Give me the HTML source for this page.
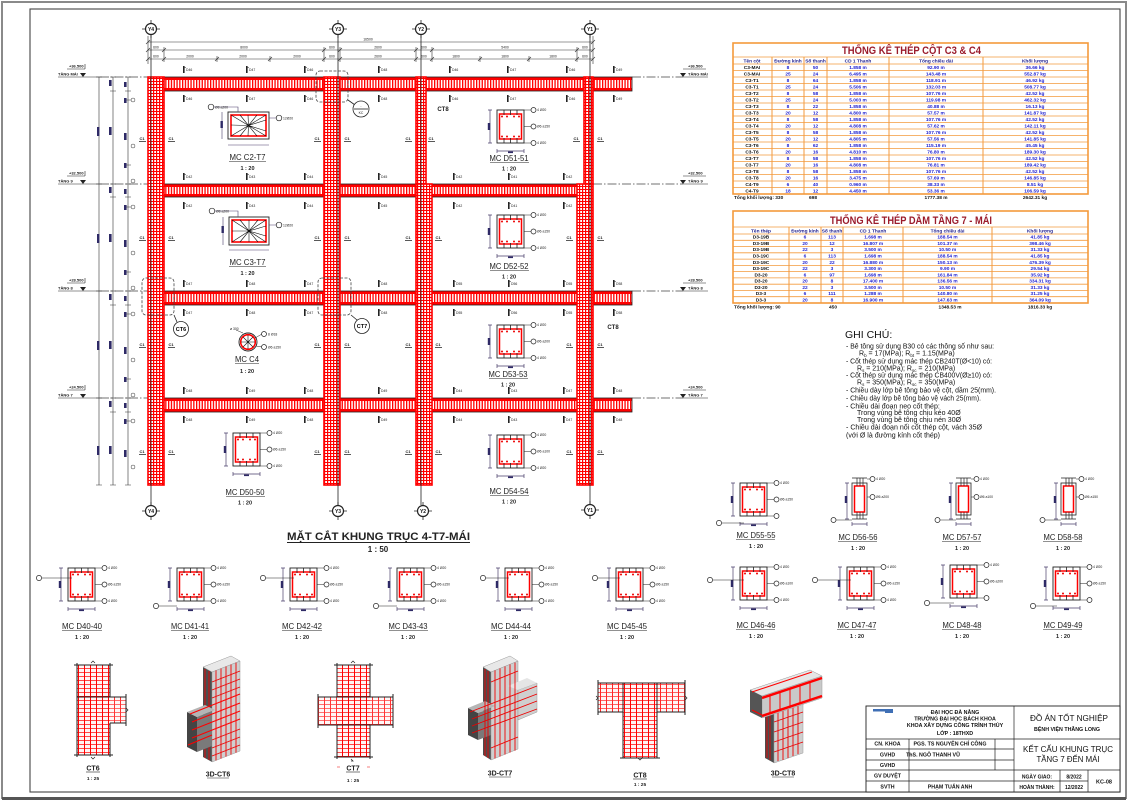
<!DOCTYPE html>
<html><head><meta charset="utf-8"><title>KC-08</title>
<style>
html,body{margin:0;padding:0;background:#fff;}
svg{display:block;font-family:"Liberation Sans","DejaVu Sans",sans-serif;}
.t3{font-size:3.4px;fill:#222;}
.t4{font-size:4px;fill:#222;font-weight:bold;}
.lb{font-size:8px;fill:#222;text-anchor:middle;}
.sc{font-size:5.5px;font-weight:bold;fill:#222;text-anchor:middle;}
.td{font-size:4.8px;font-weight:bold;fill:#1f1fd0;text-anchor:middle;}
.tn{font-size:4.8px;font-weight:bold;fill:#111;text-anchor:middle;}
.th{font-size:4.8px;font-weight:bold;fill:#1f1f8f;text-anchor:middle;}
.nt{font-size:7px;fill:#111;}
.tb{font-size:5.3px;font-weight:bold;fill:#111;text-anchor:middle;}
.ax{font-size:5px;font-weight:bold;fill:#111;text-anchor:middle;}
</style></head><body>
<svg width="1128" height="800" viewBox="0 0 1128 800" xmlns="http://www.w3.org/2000/svg">
<defs>
 <pattern id="pbeam" width="2.8" height="10" patternUnits="userSpaceOnUse">
  <rect width="2.8" height="10" fill="#fff"/><rect width="1.3" height="10" fill="#f00"/>
 </pattern>
 <pattern id="pcol" width="3" height="3" patternUnits="userSpaceOnUse">
  <rect width="3" height="3" fill="#fff"/><rect width="1.2" height="3" fill="#f00"/><rect width="3" height="1" fill="#f00"/>
 </pattern>
 <pattern id="pct" width="6" height="4" patternUnits="userSpaceOnUse">
  <rect width="6" height="4" fill="#fff4f4"/><rect width="1" height="4" fill="#f00"/><rect width="6" height="0.7" fill="#f00"/>
 </pattern>
 <g id="secA">
  <path d="M-7,0V33M-9,0H-5M-9,33H-5M0,41H27M0,39V43M27,39V43" stroke="#4a3f6b" stroke-width="0.7" fill="none"/>
  <rect x="-9.2" y="13" width="2.4" height="7" fill="#2e2a66"/>
  <rect x="11" y="41.5" width="5" height="1.6" fill="#2e2a66"/>
  <rect x="0" y="0" width="27" height="33" fill="none" stroke="#222" stroke-width="0.9"/>
  <rect x="2.5" y="4" width="22" height="25" fill="none" stroke="#f00" stroke-width="1.5"/>
  <path d="M7,0V5M13.5,0V5M20,0V5M7,28V33M13.5,28V33M20,28V33" stroke="#222" stroke-width="0.8"/>
  <g fill="#e00"><circle cx="5" cy="6.5" r="1"/><circle cx="10" cy="6.5" r="1"/><circle cx="17" cy="6.5" r="1"/><circle cx="22" cy="6.5" r="1"/><circle cx="5" cy="26.5" r="1"/><circle cx="10" cy="26.5" r="1"/><circle cx="17" cy="26.5" r="1"/><circle cx="22" cy="26.5" r="1"/></g>
  <path d="M27,0H34M27,16.5H34M27,33H34" stroke="#222" stroke-width="0.6"/>
  <g fill="#fff" stroke="#222" stroke-width="0.7"><circle cx="36.5" cy="0" r="2.5"/><circle cx="36.5" cy="16.5" r="2.5"/><circle cx="36.5" cy="33" r="2.5"/></g>
 </g>
 <g id="secB">
  <path d="M-5,0V36M-7,0H-3M-7,36H-3M0,41H15M0,39V43M15,39V43" stroke="#4a3f6b" stroke-width="0.7" fill="none"/>
  <rect x="-7.2" y="13" width="2.4" height="7" fill="#2e2a66"/>
  <rect x="0" y="0" width="15" height="32" fill="none" stroke="#222" stroke-width="0.8"/>
  <rect x="2.5" y="3" width="10" height="26" fill="none" stroke="#f00" stroke-width="1.5"/>
  <path d="M0,-5H15M5,-5V3M8,-5V3M11,-5V3M5,29V36M8,29V36M11,29V36M0,36H15" stroke="#222" stroke-width="0.7"/>
  <path d="M15,-4H18M15,14H18M0,37H-16" stroke="#222" stroke-width="0.6"/>
  <g fill="#fff" stroke="#222" stroke-width="0.7"><circle cx="20.5" cy="-4" r="2.5"/><circle cx="20.5" cy="14" r="2.5"/><circle cx="-18.5" cy="37" r="2.5"/></g>
 </g>
 <g id="mk"><rect x="0" y="0" width="1.6" height="7" fill="#222"/><rect x="1.6" y="1" width="1.4" height="0.5" fill="#222"/></g>
 <g id="bub"><path d="M-9,0H9M0,-9V9" stroke="#222" stroke-width="0.8"/><circle r="5.5" fill="#fff" stroke="#222" stroke-width="1.2"/></g>
</defs>

<!-- sheet frame -->
<rect x="2" y="2" width="1124" height="796" fill="none" stroke="#8a8a8a" stroke-width="2"/>
<line x1="2" y1="798.5" x2="1126" y2="798.5" stroke="#555" stroke-width="3"/>
<rect x="30" y="9" width="1090" height="783" fill="none" stroke="#444" stroke-width="1.1"/>

<!-- top dimensions -->
<g stroke="#333" stroke-width="0.6" fill="none">
 <path d="M148,42H593M148,50H593M148,59H593"/>
 <path d="M148,36V64M593,36V64M164,47V62M324,47V62M340,47V62M416,47V62M432,47V62M577,47V62M217,56V62M270,56V62M480,56V62M529,56V62"/>
 <path d="M146,44L150,40M591,44L595,40M146,52L150,48M162,52L166,48M322,52L326,48M338,52L342,48M414,52L418,48M430,52L434,48M575,52L579,48M591,52L595,48M146,61L150,57M162,61L166,57M215,61L219,57M268,61L272,57M322,61L326,57M338,61L342,57M414,61L418,57M430,61L434,57M478,61L482,57M527,61L531,57M575,61L579,57M591,61L595,57"/>
</g>
<g class="t3" text-anchor="middle">
 <text x="368" y="40.5">16500</text>
 <text x="156" y="48.5">600</text><text x="244" y="48.5">8000</text><text x="332" y="48.5">600</text><text x="378" y="48.5">2600</text><text x="424" y="48.5">600</text><text x="505" y="48.5">5400</text><text x="585" y="48.5">600</text>
 <text x="156" y="57.5">600</text><text x="190" y="57.5">2000</text><text x="243" y="57.5">2000</text><text x="297" y="57.5">2000</text><text x="332" y="57.5">600</text><text x="378" y="57.5">2600</text><text x="424" y="57.5">600</text><text x="456" y="57.5">1800</text><text x="505" y="57.5">1800</text><text x="553" y="57.5">1800</text><text x="585" y="57.5">600</text>
</g>

<!-- level dash-dot lines -->
<g stroke="#444" stroke-width="0.7" fill="none" stroke-dasharray="9 2 1.5 2">
 <path d="M100,77H148M100,184H148M100,291H148M100,398H148"/>
 <path d="M632,77H683M593,184H683M632,291H683M632,398H683"/>
</g>
<g stroke="#222" stroke-width="0.6" fill="none">
 <path d="M58,77H100M67,69H85M85,69V64M58,184H100M67,176H85M85,176V171M58,291H100M67,283H85M85,283V278M58,398H100M67,390H85M85,390V385"/>
 <path d="M683,77H708M683,69H706M683,184H708M683,176H706M683,291H708M683,283H706M683,398H708M683,390H706"/>
</g>
<g fill="#222">
 <polygon points="80,73 86,73 83,77"/><polygon points="80,180 86,180 83,184"/><polygon points="80,287 86,287 83,291"/><polygon points="80,394 86,394 83,398"/>
 <polygon points="680,73 686,73 683,77"/><polygon points="680,180 686,180 683,184"/><polygon points="680,287 686,287 683,291"/><polygon points="680,394 686,394 683,398"/>
</g>
<g class="t4">
 <text x="69" y="67.5">+36.500</text><text x="58" y="75.5">TẦNG MÁI</text>
 <text x="69" y="174.5">+32.500</text><text x="58" y="182.5">TẦNG 9</text>
 <text x="69" y="281.5">+28.500</text><text x="58" y="289.5">TẦNG 8</text>
 <text x="69" y="388.5">+24.500</text><text x="58" y="396.5">TẦNG 7</text>
 <text x="688" y="67.5">+36.500</text><text x="688" y="75.5">TẦNG MÁI</text>
 <text x="688" y="174.5">+32.500</text><text x="688" y="182.5">TẦNG 9</text>
 <text x="688" y="281.5">+28.500</text><text x="688" y="289.5">TẦNG 8</text>
 <text x="688" y="388.5">+24.500</text><text x="688" y="396.5">TẦNG 7</text>
</g>

<!-- left vertical dimension chains -->
<g stroke="#333" stroke-width="0.6" fill="none">
 <path d="M99,77V485M113,77V485M128,77V485"/>
 <path d="M96,77H102M96,184H102M96,291H102M96,398H102M96,485H102"/>
 <path d="M110,77H116M110,91H116M110,184H116M110,197H116M110,291H116M110,305H116M110,398H116M110,412H116M110,485H116"/>
 <path d="M125,77H131M125,91H131M125,100H131M125,165H131M125,184H131M125,197H131M125,207H131M125,272H131M125,291H131M125,305H131M125,314H131M125,379H131M125,398H131M125,412H131M125,421H131M125,485H131"/>
</g>
<g fill="#2e2a66">
 <rect x="97" y="127" width="2.4" height="9"/><rect x="97" y="234" width="2.4" height="9"/><rect x="97" y="341" width="2.4" height="9"/><rect x="97" y="446" width="2.4" height="9"/>
 <rect x="109" y="127" width="2.6" height="8"/><rect x="109" y="234" width="2.6" height="8"/><rect x="109" y="341" width="2.6" height="8"/><rect x="109" y="446" width="2.6" height="8"/>
 <rect x="109" y="187" width="2.6" height="6"/><rect x="109" y="294" width="2.6" height="6"/><rect x="109" y="401" width="2.6" height="6"/><rect x="109" y="80" width="2.6" height="6"/>
 <rect x="124" y="82" width="2.6" height="5"/><rect x="124" y="98" width="2.6" height="5"/><rect x="124" y="133" width="2.6" height="7"/><rect x="124" y="163" width="2.6" height="5"/>
 <rect x="124" y="189" width="2.6" height="5"/><rect x="124" y="205" width="2.6" height="5"/><rect x="124" y="240" width="2.6" height="7"/><rect x="124" y="270" width="2.6" height="5"/>
 <rect x="124" y="296" width="2.6" height="5"/><rect x="124" y="312" width="2.6" height="5"/><rect x="124" y="347" width="2.6" height="7"/><rect x="124" y="377" width="2.6" height="5"/>
 <rect x="124" y="403" width="2.6" height="5"/><rect x="124" y="419" width="2.6" height="5"/><rect x="124" y="450" width="2.6" height="7"/>
</g>
<g fill="#fff" stroke="#333" stroke-width="0.5">
 <circle cx="133" cy="100" r="2"/><circle cx="133" cy="146" r="2"/><circle cx="133" cy="181" r="2"/>
 <circle cx="133" cy="207" r="2"/><circle cx="133" cy="253" r="2"/><circle cx="133" cy="288" r="2"/>
 <circle cx="133" cy="314" r="2"/><circle cx="133" cy="360" r="2"/><circle cx="133" cy="395" r="2"/>
 <circle cx="133" cy="421" r="2"/><circle cx="133" cy="467" r="2"/>
</g>

<!-- beams -->
<g>
 <rect x="148" y="77" width="484" height="14" fill="url(#pbeam)"/>
 <rect x="148" y="77" width="484" height="3" fill="#f00"/><rect x="148" y="88" width="484" height="3" fill="#f00"/>
 <rect x="148" y="77" width="484" height="14" fill="none" stroke="#222" stroke-width="0.8"/>
 <rect x="148" y="184" width="445" height="13" fill="url(#pbeam)"/>
 <rect x="148" y="184" width="445" height="3" fill="#f00"/><rect x="148" y="194" width="445" height="3" fill="#f00"/>
 <rect x="148" y="184" width="445" height="13" fill="none" stroke="#222" stroke-width="0.8"/>
 <rect x="148" y="291" width="484" height="14" fill="url(#pbeam)"/>
 <rect x="148" y="291" width="484" height="3" fill="#f00"/><rect x="148" y="302" width="484" height="3" fill="#f00"/>
 <rect x="148" y="291" width="484" height="14" fill="none" stroke="#222" stroke-width="0.8"/>
 <rect x="148" y="398" width="484" height="14" fill="url(#pbeam)"/>
 <rect x="148" y="398" width="484" height="3" fill="#f00"/><rect x="148" y="409" width="484" height="3" fill="#f00"/>
 <rect x="148" y="398" width="484" height="14" fill="none" stroke="#222" stroke-width="0.8"/>
</g>
<!-- columns -->
<g stroke="#f00" stroke-width="1.6">
 <rect x="148" y="77" width="16" height="408" fill="url(#pcol)"/>
 <rect x="324" y="77" width="16" height="408" fill="url(#pcol)"/>
 <rect x="416" y="77" width="10" height="107" fill="url(#pcol)"/>
 <rect x="416" y="184" width="16" height="301" fill="url(#pcol)"/>
 <rect x="584" y="77" width="9" height="107" fill="url(#pcol)"/>
 <rect x="577" y="184" width="16" height="301" fill="url(#pcol)"/>
</g>
<!-- axes -->
<g stroke="#222" stroke-width="0.8">
 <path d="M151,34V505M338,34V505M421,34V505M590,34V505"/>
</g>
<use href="#bub" x="151" y="29"/><use href="#bub" x="338" y="29"/><use href="#bub" x="421" y="29"/><use href="#bub" x="590" y="29"/>
<use href="#bub" x="151" y="511"/><use href="#bub" x="338" y="511"/><use href="#bub" x="423" y="511"/><use href="#bub" x="590" y="510"/>
<g class="ax">
 <text x="151" y="31">Y4</text><text x="338" y="31">Y3</text><text x="421" y="31">Y2</text><text x="590" y="31">Y1</text>
 <text x="151" y="513">Y4</text><text x="338" y="513">Y3</text><text x="423" y="513">Y2</text><text x="590" y="512">Y1</text>
</g>

<!-- beam cut markers -->
<g>
 <use href="#mk" x="183" y="66"/><use href="#mk" x="246" y="66"/><use href="#mk" x="304" y="66"/><use href="#mk" x="378" y="66"/><use href="#mk" x="449" y="66"/><use href="#mk" x="507" y="66"/><use href="#mk" x="566" y="66"/><use href="#mk" x="613" y="66"/>
 <use href="#mk" x="183" y="95"/><use href="#mk" x="246" y="95"/><use href="#mk" x="304" y="95"/><use href="#mk" x="378" y="95"/><use href="#mk" x="449" y="95"/><use href="#mk" x="507" y="95"/><use href="#mk" x="566" y="95"/><use href="#mk" x="613" y="95"/>
 <use href="#mk" x="183" y="173"/><use href="#mk" x="246" y="173"/><use href="#mk" x="304" y="173"/><use href="#mk" x="378" y="173"/><use href="#mk" x="453" y="173"/><use href="#mk" x="508" y="173"/><use href="#mk" x="563" y="173"/>
 <use href="#mk" x="183" y="202"/><use href="#mk" x="246" y="202"/><use href="#mk" x="304" y="202"/><use href="#mk" x="378" y="202"/><use href="#mk" x="453" y="202"/><use href="#mk" x="508" y="202"/><use href="#mk" x="563" y="202"/>
 <use href="#mk" x="183" y="280"/><use href="#mk" x="246" y="280"/><use href="#mk" x="304" y="280"/><use href="#mk" x="378" y="280"/><use href="#mk" x="453" y="280"/><use href="#mk" x="508" y="280"/><use href="#mk" x="563" y="280"/><use href="#mk" x="613" y="280"/>
 <use href="#mk" x="183" y="309"/><use href="#mk" x="246" y="309"/><use href="#mk" x="304" y="309"/><use href="#mk" x="378" y="309"/><use href="#mk" x="453" y="309"/><use href="#mk" x="508" y="309"/><use href="#mk" x="563" y="309"/><use href="#mk" x="613" y="309"/>
 <use href="#mk" x="183" y="387"/><use href="#mk" x="246" y="387"/><use href="#mk" x="304" y="387"/><use href="#mk" x="378" y="387"/><use href="#mk" x="453" y="387"/><use href="#mk" x="508" y="387"/><use href="#mk" x="563" y="387"/><use href="#mk" x="613" y="387"/>
 <use href="#mk" x="183" y="416"/><use href="#mk" x="246" y="416"/><use href="#mk" x="304" y="416"/><use href="#mk" x="378" y="416"/><use href="#mk" x="453" y="416"/><use href="#mk" x="508" y="416"/><use href="#mk" x="563" y="416"/><use href="#mk" x="613" y="416"/>
</g>
<g class="t3">
 <text x="186" y="71">D46</text><text x="249" y="71">D47</text><text x="307" y="71">D46</text><text x="381" y="71">D48</text><text x="452" y="71">D46</text><text x="510" y="71">D47</text><text x="569" y="71">D46</text><text x="616" y="71">D49</text>
 <text x="186" y="100">D46</text><text x="249" y="100">D47</text><text x="307" y="100">D46</text><text x="381" y="100">D48</text><text x="452" y="100">D46</text><text x="510" y="100">D47</text><text x="569" y="100">D46</text><text x="616" y="100">D49</text>
 <text x="186" y="178">D42</text><text x="249" y="178">D43</text><text x="307" y="178">D44</text><text x="381" y="178">D45</text><text x="456" y="178">D42</text><text x="511" y="178">D41</text><text x="566" y="178">D42</text>
 <text x="186" y="207">D42</text><text x="249" y="207">D43</text><text x="307" y="207">D44</text><text x="381" y="207">D45</text><text x="456" y="207">D42</text><text x="511" y="207">D41</text><text x="566" y="207">D42</text>
 <text x="186" y="285">D47</text><text x="249" y="285">D48</text><text x="307" y="285">D47</text><text x="381" y="285">D48</text><text x="456" y="285">D55</text><text x="511" y="285">D56</text><text x="566" y="285">D55</text><text x="616" y="285">D58</text>
 <text x="186" y="314">D47</text><text x="249" y="314">D48</text><text x="307" y="314">D47</text><text x="381" y="314">D48</text><text x="456" y="314">D55</text><text x="511" y="314">D56</text><text x="566" y="314">D55</text><text x="616" y="314">D58</text>
 <text x="186" y="392">D48</text><text x="249" y="392">D49</text><text x="307" y="392">D48</text><text x="381" y="392">D49</text><text x="456" y="392">D44</text><text x="511" y="392">D43</text><text x="566" y="392">D47</text><text x="616" y="392">D48</text>
 <text x="186" y="421">D48</text><text x="249" y="421">D49</text><text x="307" y="421">D48</text><text x="381" y="421">D49</text><text x="456" y="421">D44</text><text x="511" y="421">D43</text><text x="566" y="421">D47</text><text x="616" y="421">D48</text>
</g>
<!-- C1 column cut marks -->
<g class="t4" text-anchor="middle">
 <text x="142" y="140">C1</text><text x="171" y="140">C1</text><text x="317" y="140">C1</text><text x="347" y="140">C1</text><text x="408" y="140">C1</text><text x="431" y="140">C1</text><text x="576" y="140">C1</text><text x="600" y="140">C1</text>
 <text x="142" y="239">C1</text><text x="171" y="239">C1</text><text x="317" y="239">C1</text><text x="347" y="239">C1</text><text x="408" y="239">C1</text><text x="438" y="239">C1</text><text x="569" y="239">C1</text><text x="600" y="239">C1</text>
 <text x="142" y="346">C1</text><text x="171" y="346">C1</text><text x="317" y="346">C1</text><text x="347" y="346">C1</text><text x="408" y="346">C1</text><text x="438" y="346">C1</text><text x="569" y="346">C1</text><text x="600" y="346">C1</text>
 <text x="142" y="453">C1</text><text x="171" y="453">C1</text><text x="317" y="453">C1</text><text x="347" y="453">C1</text><text x="408" y="453">C1</text><text x="438" y="453">C1</text><text x="569" y="453">C1</text><text x="600" y="453">C1</text>
</g>
<g stroke="#222" stroke-width="0.7">
 <path d="M139,141.5H146M168,141.5H175M314,141.5H321M344,141.5H351M405,141.5H412M428,141.5H435M573,141.5H580M597,141.5H604"/>
 <path d="M139,240.5H146M168,240.5H175M314,240.5H321M344,240.5H351M405,240.5H412M435,240.5H442M566,240.5H573M597,240.5H604"/>
 <path d="M139,347.5H146M168,347.5H175M314,347.5H321M344,347.5H351M405,347.5H412M435,347.5H442M566,347.5H573M597,347.5H604"/>
 <path d="M139,454.5H146M168,454.5H175M314,454.5H321M344,454.5H351M405,454.5H412M435,454.5H442M566,454.5H573M597,454.5H604"/>
</g>

<!-- callout detail boxes -->
<g fill="none" stroke="#444" stroke-width="0.8" stroke-dasharray="3 1.5">
 <rect x="316" y="71" width="32" height="31" rx="4"/>
 <rect x="142" y="278" width="32" height="37" rx="4"/>
 <rect x="318" y="278" width="33" height="37" rx="4"/>
</g>
<g stroke="#222" stroke-width="0.8">
 <path d="M348,100L355,105M174,315L177,322M351,315L357,320"/>
 <circle cx="361" cy="109" r="8" fill="#fff"/><path d="M354,109H368"/>
 <circle cx="181" cy="329" r="7.5" fill="#fff"/>
 <circle cx="362" cy="326" r="7.5" fill="#fff"/>
</g>
<text x="361" y="107" class="t3" text-anchor="middle">-</text>
<text x="361" y="114" class="t3" text-anchor="middle">KC</text>
<text x="181" y="331" style="font-size:5.5px;font-weight:bold" text-anchor="middle">CT6</text>
<text x="362" y="328" style="font-size:5.5px;font-weight:bold" text-anchor="middle">CT7</text>
<text x="443" y="111" style="font-size:6px;font-weight:bold;fill:#222" text-anchor="middle">CT8</text>
<text x="613" y="329" style="font-size:6px;font-weight:bold;fill:#222" text-anchor="middle">CT8</text>

<!-- MC C2-T7 -->
<g>
 <rect x="228" y="112" width="41" height="27" fill="none" stroke="#222" stroke-width="0.9"/>
 <rect x="231" y="115" width="35" height="21" fill="none" stroke="#f00" stroke-width="1.6"/>
 <path d="M248.5,125.5L231,115M248.5,125.5L240,115M248.5,125.5L248,115M248.5,125.5L257,115M248.5,125.5L266,115M248.5,125.5L266,120M248.5,125.5L266,131M248.5,125.5L266,136M248.5,125.5L257,136M248.5,125.5L248,136M248.5,125.5L240,136M248.5,125.5L231,136M248.5,125.5L231,125" stroke="#111" stroke-width="0.6"/>
 <path d="M222,112V139M228,145H269M214,107H238V112M269,118H276" stroke="#4a3f6b" stroke-width="0.6" fill="none"/>
 <rect x="220.5" y="121" width="2.4" height="7" fill="#2e2a66"/>
 <circle cx="211" cy="107" r="2.8" fill="#fff" stroke="#222" stroke-width="0.7"/>
 <circle cx="279" cy="118" r="2.8" fill="#fff" stroke="#222" stroke-width="0.7"/>
 <text x="215" y="108.5" class="t3">Ø8 a200</text><text x="283" y="119.5" class="t3">12Ø20</text>
 <text x="247.5" y="160" class="lb" textLength="36" lengthAdjust="spacingAndGlyphs">MC C2-T7</text>
 <line x1="229" y1="161.5" x2="266" y2="161.5" stroke="#222" stroke-width="0.6"/>
 <text x="247.5" y="170" class="sc">1 : 20</text>
</g>
<!-- MC C3-T7 -->
<g>
 <rect x="229" y="217" width="40" height="28" fill="none" stroke="#222" stroke-width="0.9"/>
 <rect x="232" y="220" width="34" height="22" fill="none" stroke="#f00" stroke-width="1.6"/>
 <path d="M249,231L232,220M249,231L240,220M249,231L249,220M249,231L258,220M249,231L266,220M249,231L266,226M249,231L266,236M249,231L266,242M249,231L258,242M249,231L249,242M249,231L240,242M249,231L232,242M249,231L232,231" stroke="#111" stroke-width="0.6"/>
 <path d="M223,217V245M229,250H269M215,211H238V217M269,225H276" stroke="#4a3f6b" stroke-width="0.6" fill="none"/>
 <rect x="221.5" y="226" width="2.4" height="7" fill="#2e2a66"/>
 <circle cx="212" cy="211" r="2.8" fill="#fff" stroke="#222" stroke-width="0.7"/>
 <circle cx="279" cy="225" r="2.8" fill="#fff" stroke="#222" stroke-width="0.7"/>
 <text x="216" y="212.5" class="t3">Ø8 a200</text><text x="283" y="226.5" class="t3">12Ø20</text>
 <text x="247.5" y="265" class="lb" textLength="36" lengthAdjust="spacingAndGlyphs">MC C3-T7</text>
 <line x1="229" y1="266.5" x2="266" y2="266.5" stroke="#222" stroke-width="0.6"/>
 <text x="247.5" y="275" class="sc">1 : 20</text>
</g>
<!-- MC C4 -->
<g>
 <circle cx="248" cy="342" r="9" fill="none" stroke="#222" stroke-width="0.9"/>
 <circle cx="248" cy="342" r="7.3" fill="none" stroke="#f00" stroke-width="1.6"/>
 <path d="M241,342H255M248,335V349M243,337L253,347M243,347L253,337" stroke="#111" stroke-width="0.6"/>
 <path d="M255,338L262,334M256,346L262,347M236,330L243,333" stroke="#222" stroke-width="0.5"/>
 <circle cx="264" cy="334" r="2.5" fill="#fff" stroke="#222" stroke-width="0.7"/>
 <circle cx="264" cy="347" r="2.5" fill="#fff" stroke="#222" stroke-width="0.7"/>
 <text x="268" y="335.5" class="t3">8 Ø18</text><text x="268" y="348.5" class="t3">Ø6 a150</text>
 <text x="230" y="330" class="t3">ø 300</text>
 <text x="247" y="362" class="lb" textLength="24" lengthAdjust="spacingAndGlyphs">MC C4</text>
 <line x1="235" y1="363.5" x2="259" y2="363.5" stroke="#222" stroke-width="0.6"/>
 <text x="247" y="373" class="sc">1 : 20</text>
</g>

<!-- sections inside frame -->
<g transform="translate(233,433)"><use href="#secA"/><text x="40" y="1.2" class="t3">4 Ø20</text><text x="40" y="17.7" class="t3">Ø6 a150</text><text x="40" y="34.2" class="t3">4 Ø20</text></g>
<text x="245" y="495" class="lb" textLength="39" lengthAdjust="spacingAndGlyphs">MC D50-50</text><line x1="226" y1="496.5" x2="265" y2="496.5" stroke="#222" stroke-width="0.6"/><text x="245" y="504.5" class="sc">1 : 20</text>
<g transform="translate(497,110)"><use href="#secA"/><text x="40" y="1.2" class="t3">4 Ø20</text><text x="40" y="17.7" class="t3">Ø6 a150</text><text x="40" y="34.2" class="t3">4 Ø20</text></g>
<text x="509" y="161" class="lb" textLength="39" lengthAdjust="spacingAndGlyphs">MC D51-51</text><line x1="490" y1="162.5" x2="529" y2="162.5" stroke="#222" stroke-width="0.6"/><text x="509" y="170.5" class="sc">1 : 20</text>
<g transform="translate(497,215)"><use href="#secA"/><text x="40" y="1.2" class="t3">4 Ø20</text><text x="40" y="17.7" class="t3">Ø6 a150</text><text x="40" y="34.2" class="t3">4 Ø20</text></g>
<text x="509" y="269" class="lb" textLength="39" lengthAdjust="spacingAndGlyphs">MC D52-52</text><line x1="490" y1="270.5" x2="529" y2="270.5" stroke="#222" stroke-width="0.6"/><text x="509" y="278.5" class="sc">1 : 20</text>
<g transform="translate(497,325)"><use href="#secA"/><text x="40" y="1.2" class="t3">4 Ø20</text><text x="40" y="17.7" class="t3">Ø6 a200</text><text x="40" y="34.2" class="t3">4 Ø20</text></g>
<text x="508" y="377" class="lb" textLength="39" lengthAdjust="spacingAndGlyphs">MC D53-53</text><line x1="489" y1="378.5" x2="528" y2="378.5" stroke="#222" stroke-width="0.6"/><text x="508" y="386.5" class="sc">1 : 20</text>
<g transform="translate(497,435)"><use href="#secA"/><text x="40" y="1.2" class="t3">4 Ø20</text><text x="40" y="17.7" class="t3">Ø6 a100</text><text x="40" y="34.2" class="t3">4 Ø20</text></g>
<text x="509" y="494" class="lb" textLength="39" lengthAdjust="spacingAndGlyphs">MC D54-54</text><line x1="490" y1="495.5" x2="529" y2="495.5" stroke="#222" stroke-width="0.6"/><text x="509" y="503.5" class="sc">1 : 20</text>

<!-- main title -->
<text x="378.5" y="540" style="font-size:11px;font-weight:bold;fill:#222" text-anchor="middle" textLength="183" lengthAdjust="spacingAndGlyphs">MẶT CẮT KHUNG TRỤC 4-T7-MÁI</text>
<line x1="287" y1="542.5" x2="470" y2="542.5" stroke="#222" stroke-width="1"/>
<text x="378" y="552" style="font-size:8px;font-weight:bold;fill:#222" text-anchor="middle">1 : 50</text>

<!-- bottom-left section row -->
<g transform="translate(68,568)"><use href="#secA"/><text x="40" y="1.2" class="t3">4 Ø20</text><text x="40" y="17.7" class="t3">Ø6 a150</text><text x="40" y="34.2" class="t3">4 Ø20</text></g>
<g transform="translate(177,568)"><use href="#secA"/><text x="40" y="1.2" class="t3">4 Ø20</text><text x="40" y="17.7" class="t3">Ø6 a150</text><text x="40" y="34.2" class="t3">4 Ø20</text></g>
<g transform="translate(290,568)"><use href="#secA"/><text x="40" y="1.2" class="t3">4 Ø20</text><text x="40" y="17.7" class="t3">Ø6 a150</text><text x="40" y="34.2" class="t3">4 Ø20</text></g>
<g transform="translate(397,568)"><use href="#secA"/><text x="40" y="1.2" class="t3">4 Ø20</text><text x="40" y="17.7" class="t3">Ø6 a150</text><text x="40" y="34.2" class="t3">4 Ø20</text></g>
<g transform="translate(505,568)"><use href="#secA"/><text x="40" y="1.2" class="t3">4 Ø20</text><text x="40" y="17.7" class="t3">Ø6 a150</text><text x="40" y="34.2" class="t3">4 Ø20</text></g>
<g transform="translate(616,568)"><use href="#secA"/><text x="40" y="1.2" class="t3">4 Ø20</text><text x="40" y="17.7" class="t3">Ø6 a150</text><text x="40" y="34.2" class="t3">4 Ø20</text></g>
<g fill="#fff" stroke="#222" stroke-width="0.7">
 <circle cx="39" cy="578" r="2.6"/><circle cx="156" cy="606" r="2.6"/><circle cx="263" cy="578" r="2.6"/><circle cx="376" cy="606" r="2.6"/><circle cx="483" cy="578" r="2.6"/><circle cx="595" cy="578" r="2.6"/>
</g>
<g stroke="#222" stroke-width="0.5"><path d="M42,578H72M159,606H177M266,578H294M379,606H397M486,578H509M598,578H620"/></g>
<g class="lb">
 <text x="82" y="629" textLength="40" lengthAdjust="spacingAndGlyphs">MC D40-40</text>
 <text x="190" y="629" textLength="38" lengthAdjust="spacingAndGlyphs">MC D41-41</text>
 <text x="302" y="629" textLength="40" lengthAdjust="spacingAndGlyphs">MC D42-42</text>
 <text x="408" y="629" textLength="39" lengthAdjust="spacingAndGlyphs">MC D43-43</text>
 <text x="511" y="629" textLength="40" lengthAdjust="spacingAndGlyphs">MC D44-44</text>
 <text x="627" y="629" textLength="40" lengthAdjust="spacingAndGlyphs">MC D45-45</text>
</g>
<g stroke="#222" stroke-width="0.6"><path d="M62,630.5H102M171,630.5H209M282,630.5H322M389,630.5H428M491,630.5H531M607,630.5H647"/></g>
<g class="sc">
 <text x="82" y="639">1 : 20</text><text x="190" y="639">1 : 20</text><text x="302" y="639">1 : 20</text><text x="408" y="639">1 : 20</text><text x="511" y="639">1 : 20</text><text x="627" y="639">1 : 20</text>
</g>

<!-- right section rows -->
<g transform="translate(740,483)"><use href="#secA"/><text x="40" y="1.2" class="t3">4 Ø20</text><text x="40" y="17.7" class="t3">Ø6 a150</text></g>
<circle cx="719" cy="523" r="2.6" fill="#fff" stroke="#222" stroke-width="0.7"/><path d="M722,523H744" stroke="#222" stroke-width="0.5"/>
<g transform="translate(852,483)"><use href="#secB"/><text x="24" y="-2.8" class="t3">4 Ø20</text><text x="24" y="15.2" class="t3">Ø6 a200</text></g>
<g transform="translate(956,483)"><use href="#secB"/><text x="24" y="-2.8" class="t3">4 Ø20</text><text x="24" y="15.2" class="t3">Ø6 a100</text></g>
<g transform="translate(1061,483)"><use href="#secB"/><text x="24" y="-2.8" class="t3">4 Ø20</text><text x="24" y="15.2" class="t3">Ø6 a150</text></g>
<g class="lb">
 <text x="756" y="538" textLength="39" lengthAdjust="spacingAndGlyphs">MC D55-55</text>
 <text x="858" y="540" textLength="39" lengthAdjust="spacingAndGlyphs">MC D56-56</text>
 <text x="962" y="540" textLength="39" lengthAdjust="spacingAndGlyphs">MC D57-57</text>
 <text x="1063" y="540" textLength="39" lengthAdjust="spacingAndGlyphs">MC D58-58</text>
</g>
<g stroke="#222" stroke-width="0.6"><path d="M736,539.5H775M838,541.5H877M942,541.5H981M1043,541.5H1082"/></g>
<g class="sc"><text x="756" y="548">1 : 20</text><text x="858" y="550">1 : 20</text><text x="962" y="550">1 : 20</text><text x="1063" y="550">1 : 20</text></g>

<g transform="translate(740,567)"><use href="#secA"/><text x="40" y="1.2" class="t3">4 Ø20</text><text x="40" y="17.7" class="t3">Ø6 a100</text><text x="40" y="34.2" class="t3">4 Ø20</text></g>
<g transform="translate(847,567)"><use href="#secA"/><text x="40" y="1.2" class="t3">4 Ø20</text><text x="40" y="17.7" class="t3">Ø6 a150</text><text x="40" y="34.2" class="t3">4 Ø20</text></g>
<g transform="translate(950,565)"><use href="#secA"/><text x="40" y="1.2" class="t3">4 Ø20</text><text x="40" y="17.7" class="t3">Ø6 a200</text></g>
<g transform="translate(1053,567)"><use href="#secA"/><text x="40" y="1.2" class="t3">4 Ø20</text><text x="40" y="17.7" class="t3">Ø6 a150</text></g>
<g fill="#fff" stroke="#222" stroke-width="0.7"><circle cx="710" cy="580" r="2.6"/><circle cx="815" cy="580" r="2.6"/><circle cx="927" cy="603" r="2.6"/><circle cx="1033" cy="606" r="2.6"/></g>
<g stroke="#222" stroke-width="0.5"><path d="M713,580H744M818,580H851M930,603H954M1036,606H1057"/></g>
<g class="lb">
 <text x="756" y="628" textLength="39" lengthAdjust="spacingAndGlyphs">MC D46-46</text>
 <text x="857" y="628" textLength="39" lengthAdjust="spacingAndGlyphs">MC D47-47</text>
 <text x="962" y="628" textLength="39" lengthAdjust="spacingAndGlyphs">MC D48-48</text>
 <text x="1063" y="628" textLength="39" lengthAdjust="spacingAndGlyphs">MC D49-49</text>
</g>
<g stroke="#222" stroke-width="0.6"><path d="M736,629.5H775M837,629.5H876M942,629.5H981M1043,629.5H1082"/></g>
<g class="sc"><text x="756" y="638">1 : 20</text><text x="857" y="638">1 : 20</text><text x="962" y="638">1 : 20</text><text x="1063" y="638">1 : 20</text></g>

<!-- TABLE 1 -->
<g>
 <rect x="733" y="43" width="355" height="151" fill="#fff" stroke="#f39a3c" stroke-width="1.6"/>
 <path d="M733,57H1088M733,64H1088M733,70.5H1088M733,77H1088M733,83.5H1088M733,90H1088M733,96.5H1088M733,103H1088M733,109.5H1088M733,116H1088M733,122.5H1088M733,129H1088M733,135.5H1088M733,142H1088M733,148.5H1088M733,155H1088M733,161.5H1088M733,168H1088M733,174.5H1088M733,181H1088M733,187.5H1088" stroke="#f39a3c" stroke-width="0.8"/>
 <path d="M772,57V194M804,57V194M827,57V194M889,57V194M983,57V194" stroke="#f39a3c" stroke-width="1"/>
 <text x="911.5" y="54" style="font-size:11px;font-weight:bold;fill:#9b1b2b" text-anchor="middle" textLength="139" lengthAdjust="spacingAndGlyphs">THỐNG KÊ THÉP CỘT C3 &amp; C4</text>
 <g class="th"><text x="752" y="62.3">Tên cột</text><text x="788" y="62.3">Đường kính</text><text x="815.5" y="62.3">Số thanh</text><text x="858" y="62.3">CD 1 Thanh</text><text x="936" y="62.3">Tổng chiều dài</text><text x="1035" y="62.3">Khối lượng</text></g>
 <g class="tn">
  <text x="752" y="68.9">C3-MAI</text><text x="752" y="75.4">C3-MAI</text><text x="752" y="81.9">C3-T1</text><text x="752" y="88.4">C3-T1</text><text x="752" y="94.9">C3-T2</text><text x="752" y="101.4">C3-T2</text><text x="752" y="107.9">C3-T3</text><text x="752" y="114.4">C3-T3</text><text x="752" y="120.9">C3-T4</text><text x="752" y="127.4">C3-T4</text>
  <text x="752" y="133.9">C3-T5</text><text x="752" y="140.4">C3-T5</text><text x="752" y="146.9">C3-T6</text><text x="752" y="153.4">C3-T6</text><text x="752" y="159.9">C3-T7</text><text x="752" y="166.4">C3-T7</text><text x="752" y="172.9">C3-T8</text><text x="752" y="179.4">C3-T8</text><text x="752" y="185.9">C4-T9</text><text x="752" y="192.4">C4-T9</text>
 </g>
 <g class="td">
  <text x="788" y="68.9">8</text><text x="788" y="75.4">25</text><text x="788" y="81.9">8</text><text x="788" y="88.4">25</text><text x="788" y="94.9">8</text><text x="788" y="101.4">25</text><text x="788" y="107.9">8</text><text x="788" y="114.4">20</text><text x="788" y="120.9">8</text><text x="788" y="127.4">20</text>
  <text x="788" y="133.9">8</text><text x="788" y="140.4">20</text><text x="788" y="146.9">8</text><text x="788" y="153.4">20</text><text x="788" y="159.9">8</text><text x="788" y="166.4">20</text><text x="788" y="172.9">8</text><text x="788" y="179.4">20</text><text x="788" y="185.9">6</text><text x="788" y="192.4">18</text>
  <text x="815.5" y="68.9">50</text><text x="815.5" y="75.4">24</text><text x="815.5" y="81.9">64</text><text x="815.5" y="88.4">24</text><text x="815.5" y="94.9">58</text><text x="815.5" y="101.4">24</text><text x="815.5" y="107.9">22</text><text x="815.5" y="114.4">12</text><text x="815.5" y="120.9">58</text><text x="815.5" y="127.4">12</text>
  <text x="815.5" y="133.9">58</text><text x="815.5" y="140.4">12</text><text x="815.5" y="146.9">62</text><text x="815.5" y="153.4">16</text><text x="815.5" y="159.9">58</text><text x="815.5" y="166.4">16</text><text x="815.5" y="172.9">58</text><text x="815.5" y="179.4">16</text><text x="815.5" y="185.9">40</text><text x="815.5" y="192.4">12</text>
  <text x="858" y="68.9">1.858 m</text><text x="858" y="75.4">6.495 m</text><text x="858" y="81.9">1.858 m</text><text x="858" y="88.4">5.506 m</text><text x="858" y="94.9">1.858 m</text><text x="858" y="101.4">5.003 m</text><text x="858" y="107.9">1.858 m</text><text x="858" y="114.4">4.800 m</text><text x="858" y="120.9">1.858 m</text><text x="858" y="127.4">4.808 m</text>
  <text x="858" y="133.9">1.858 m</text><text x="858" y="140.4">4.805 m</text><text x="858" y="146.9">1.858 m</text><text x="858" y="153.4">4.810 m</text><text x="858" y="159.9">1.858 m</text><text x="858" y="166.4">4.808 m</text><text x="858" y="172.9">1.858 m</text><text x="858" y="179.4">3.475 m</text><text x="858" y="185.9">0.960 m</text><text x="858" y="192.4">4.450 m</text>
  <text x="936" y="68.9">92.90 m</text><text x="936" y="75.4">143.48 m</text><text x="936" y="81.9">118.91 m</text><text x="936" y="88.4">132.03 m</text><text x="936" y="94.9">107.76 m</text><text x="936" y="101.4">119.98 m</text><text x="936" y="107.9">40.88 m</text><text x="936" y="114.4">57.57 m</text><text x="936" y="120.9">107.76 m</text><text x="936" y="127.4">57.62 m</text>
  <text x="936" y="133.9">107.76 m</text><text x="936" y="140.4">57.56 m</text><text x="936" y="146.9">115.19 m</text><text x="936" y="153.4">76.80 m</text><text x="936" y="159.9">107.76 m</text><text x="936" y="166.4">76.81 m</text><text x="936" y="172.9">107.76 m</text><text x="936" y="179.4">57.69 m</text><text x="936" y="185.9">38.33 m</text><text x="936" y="192.4">53.36 m</text>
  <text x="1035" y="68.9">36.66 kg</text><text x="1035" y="75.4">552.87 kg</text><text x="1035" y="81.9">46.92 kg</text><text x="1035" y="88.4">508.77 kg</text><text x="1035" y="94.9">42.52 kg</text><text x="1035" y="101.4">462.32 kg</text><text x="1035" y="107.9">16.13 kg</text><text x="1035" y="114.4">141.87 kg</text><text x="1035" y="120.9">42.52 kg</text><text x="1035" y="127.4">142.11 kg</text>
  <text x="1035" y="133.9">42.52 kg</text><text x="1035" y="140.4">141.85 kg</text><text x="1035" y="146.9">45.45 kg</text><text x="1035" y="153.4">189.30 kg</text><text x="1035" y="159.9">42.52 kg</text><text x="1035" y="166.4">189.42 kg</text><text x="1035" y="172.9">42.52 kg</text><text x="1035" y="179.4">146.85 kg</text><text x="1035" y="185.9">8.51 kg</text><text x="1035" y="192.4">106.59 kg</text>
 </g>
 <g style="font-size:4.8px;font-weight:bold;fill:#111">
  <text x="734" y="199">Tổng khối lượng: 330</text><text x="813" y="199" text-anchor="middle">698</text><text x="936" y="199" text-anchor="middle">1777.38 m</text><text x="1035" y="199" text-anchor="middle">2642.31 kg</text>
 </g>
</g>

<!-- TABLE 2 -->
<g>
 <rect x="733" y="211" width="355" height="92" fill="#fff" stroke="#f39a3c" stroke-width="1.6"/>
 <path d="M733,227H1088M733,234H1088M733,240.3H1088M733,246.5H1088M733,252.8H1088M733,259.1H1088M733,265.4H1088M733,271.6H1088M733,277.9H1088M733,284.2H1088M733,290.4H1088M733,296.7H1088" stroke="#f39a3c" stroke-width="0.8"/>
 <path d="M789,227V303M821,227V303M843,227V303M903,227V303M992,227V303" stroke="#f39a3c" stroke-width="1"/>
 <text x="911" y="224" style="font-size:11px;font-weight:bold;fill:#9b1b2b" text-anchor="middle" textLength="162" lengthAdjust="spacingAndGlyphs">THỐNG KÊ THÉP DẦM TẦNG 7 - MÁI</text>
 <g class="th"><text x="761" y="232.5">Tên thép</text><text x="805" y="232.5">Đường kính</text><text x="832" y="232.5">Số thanh</text><text x="873" y="232.5">CD 1 Thanh</text><text x="947.5" y="232.5">Tổng chiều dài</text><text x="1040" y="232.5">Khối lượng</text></g>
 <g class="tn">
  <text x="761" y="238.7">D3-19B</text><text x="761" y="245">D3-19B</text><text x="761" y="251.2">D3-19B</text><text x="761" y="257.5">D3-19C</text><text x="761" y="263.8">D3-19C</text><text x="761" y="270.1">D3-19C</text><text x="761" y="276.3">D3-20</text><text x="761" y="282.6">D3-20</text><text x="761" y="288.9">D3-20</text><text x="761" y="295.1">D3-3</text><text x="761" y="301.4">D3-3</text>
 </g>
 <g class="td">
  <text x="805" y="238.7">6</text><text x="805" y="245">20</text><text x="805" y="251.2">22</text><text x="805" y="257.5">6</text><text x="805" y="263.8">20</text><text x="805" y="270.1">22</text><text x="805" y="276.3">6</text><text x="805" y="282.6">20</text><text x="805" y="288.9">22</text><text x="805" y="295.1">6</text><text x="805" y="301.4">20</text>
  <text x="832" y="238.7">113</text><text x="832" y="245">12</text><text x="832" y="251.2">3</text><text x="832" y="257.5">113</text><text x="832" y="263.8">22</text><text x="832" y="270.1">3</text><text x="832" y="276.3">97</text><text x="832" y="282.6">8</text><text x="832" y="288.9">3</text><text x="832" y="295.1">111</text><text x="832" y="301.4">8</text>
  <text x="873" y="238.7">1.698 m</text><text x="873" y="245">16.807 m</text><text x="873" y="251.2">3.500 m</text><text x="873" y="257.5">1.698 m</text><text x="873" y="263.8">16.880 m</text><text x="873" y="270.1">3.300 m</text><text x="873" y="276.3">1.698 m</text><text x="873" y="282.6">17.400 m</text><text x="873" y="288.9">3.500 m</text><text x="873" y="295.1">1.288 m</text><text x="873" y="301.4">16.900 m</text>
  <text x="947.5" y="238.7">188.54 m</text><text x="947.5" y="245">101.37 m</text><text x="947.5" y="251.2">10.50 m</text><text x="947.5" y="257.5">188.54 m</text><text x="947.5" y="263.8">150.13 m</text><text x="947.5" y="270.1">9.90 m</text><text x="947.5" y="276.3">161.84 m</text><text x="947.5" y="282.6">136.56 m</text><text x="947.5" y="288.9">10.50 m</text><text x="947.5" y="295.1">140.80 m</text><text x="947.5" y="301.4">147.63 m</text>
  <text x="1040" y="238.7">41.85 kg</text><text x="1040" y="245">398.46 kg</text><text x="1040" y="251.2">31.33 kg</text><text x="1040" y="257.5">41.85 kg</text><text x="1040" y="263.8">476.39 kg</text><text x="1040" y="270.1">29.54 kg</text><text x="1040" y="276.3">35.92 kg</text><text x="1040" y="282.6">334.31 kg</text><text x="1040" y="288.9">31.33 kg</text><text x="1040" y="295.1">31.25 kg</text><text x="1040" y="301.4">364.09 kg</text>
 </g>
 <g style="font-size:4.8px;font-weight:bold;fill:#111">
  <text x="734" y="308.5">Tổng khối lượng: 90</text><text x="833" y="308.5" text-anchor="middle">450</text><text x="950" y="308.5" text-anchor="middle">1348.53 m</text><text x="1040" y="308.5" text-anchor="middle">1816.33 kg</text>
 </g>
</g>

<!-- Notes -->
<text x="845" y="338" style="font-size:10.5px;fill:#111">GHI CHÚ:</text>
<g class="nt">
 <text x="846" y="348.5" textLength="148" lengthAdjust="spacingAndGlyphs">- Bê tông sử dụng B30 có các thông số như sau:</text>
 <text x="859" y="355.5">R<tspan style="font-size:4.5px" dy="1.5">b</tspan><tspan dy="-1.5"> = 17(MPa); R</tspan><tspan style="font-size:4.5px" dy="1.5">bt</tspan><tspan dy="-1.5"> = 1.15(MPa)</tspan></text>
 <text x="846" y="363.5" textLength="146" lengthAdjust="spacingAndGlyphs">- Cốt thép sử dụng mác thép CB240T(Ø&lt;10) có:</text>
 <text x="857" y="370.5">R<tspan style="font-size:4.5px" dy="1.5">s</tspan><tspan dy="-1.5"> = 210(MPa); R</tspan><tspan style="font-size:4.5px" dy="1.5">sc</tspan><tspan dy="-1.5"> = 210(MPa)</tspan></text>
 <text x="846" y="377.5" textLength="146" lengthAdjust="spacingAndGlyphs">- Cốt thép sử dụng mác thép CB400V(Ø≥10) có:</text>
 <text x="857" y="384.5">R<tspan style="font-size:4.5px" dy="1.5">s</tspan><tspan dy="-1.5"> = 350(MPa); R</tspan><tspan style="font-size:4.5px" dy="1.5">sc</tspan><tspan dy="-1.5"> = 350(MPa)</tspan></text>
 <text x="846" y="392.5" textLength="150" lengthAdjust="spacingAndGlyphs">- Chiều dày lớp bê tông bảo vệ cột, dầm 25(mm).</text>
 <text x="846" y="400.5" textLength="135" lengthAdjust="spacingAndGlyphs">- Chiều dày lớp bê tông bảo vệ vách 25(mm).</text>
 <text x="846" y="408.5">- Chiều dài đoạn neo cốt thép:</text>
 <text x="857" y="415">Trong vùng bê tông chịu kéo 40Ø</text>
 <text x="857" y="422">Trong vùng bê tông chịu nén 30Ø</text>
 <text x="846" y="429.5" textLength="136" lengthAdjust="spacingAndGlyphs">- Chiều dài đoạn nối cốt thép cột, vách 35Ø</text>
 <text x="846" y="437.5">(với Ø là đường kính cốt thép)</text>
</g>

<!-- CT6 2D -->
<g>
 <rect x="77" y="665" width="33" height="90" fill="url(#pct)"/>
 <rect x="110" y="697" width="16" height="26" fill="url(#pct)" opacity="0.8"/>
 <g stroke="#222" stroke-width="1" fill="none">
  <path d="M77,663V757M110,663V697M110,723V757M74,665H113M74,755H113M77,697H126M110,723H126M126,694V726"/>
 </g>
 <path d="M91,663l2,-2l2,2M91,757l2,2l2,-2M126,708l2,2l-2,2" stroke="#222" stroke-width="0.7" fill="none"/>
 <text x="93" y="770.5" style="font-size:7px;font-weight:bold;fill:#222" text-anchor="middle">CT6</text>
 <line x1="86" y1="772" x2="100" y2="772" stroke="#222" stroke-width="0.6"/>
 <text x="93" y="780" style="font-size:4.8px;font-weight:bold;fill:#222" text-anchor="middle">1 : 25</text>
</g>
<!-- 3D-CT6 -->
<g>
 <polygon points="203,667 212,672 212,762 203,757" fill="#4d4d4d"/>
 <polygon points="212,672 240,661 240,751 212,762" fill="#cfcfcf" stroke="#999" stroke-width="0.5"/>
 <polygon points="203,667 231,656 240,661 212,672" fill="#e8e8e8" stroke="#999" stroke-width="0.5"/>
 <g stroke="#e00" stroke-width="0.9">
  <path d="M216,670.4V760.4M221,668.5V758.5M226,666.5V756.5M231,664.5V754.5M236,662.6V752.6M205,669V758M209,671V760"/>
  <path d="M212,682L240,671M212,690L240,679M212,698L240,687M212,740L240,729M212,748L240,737M212,756L240,745"/>
 </g>
 <polygon points="187,712 197,717 197,752 187,747" fill="#444"/>
 <polygon points="187,712 205,705 215,710 197,717" fill="#b5b5b5"/>
 <polygon points="197,717 212,711 212,746 197,752" fill="#7a7a7a"/>
 <g stroke="#f00" stroke-width="1">
  <path d="M190,714L240,694M192,722L240,703M192,730L240,711M192,738L240,719M188,745L212,735"/>
 </g>
 <text x="218" y="776.5" style="font-size:7px;font-weight:bold;fill:#222" text-anchor="middle">3D-CT6</text>
 <line x1="207" y1="778" x2="229" y2="778" stroke="#222" stroke-width="0.6"/>
</g>
<!-- CT7 2D -->
<g>
 <rect x="337" y="665" width="33" height="92" fill="url(#pct)"/>
 <rect x="318" y="697" width="19" height="28" fill="url(#pct)" opacity="0.8"/>
 <rect x="370" y="697" width="23" height="28" fill="url(#pct)" opacity="0.8"/>
 <g stroke="#222" stroke-width="1" fill="none">
  <path d="M337,663V697M337,725V759M370,663V697M370,725V759M334,665H373M334,757H373M318,697H393M318,725H393M318,694V728M393,694V728"/>
 </g>
 <path d="M351,663l2,-2l2,2M351,759l2,2l-2,0" stroke="#222" stroke-width="0.7" fill="none"/>
 <text x="353" y="770.5" style="font-size:7px;font-weight:bold;fill:#222" text-anchor="middle">CT7</text>
 <line x1="346" y1="772" x2="360" y2="772" stroke="#222" stroke-width="0.6"/>
 <text x="353" y="782" style="font-size:4.8px;font-weight:bold;fill:#222" text-anchor="middle">1 : 25</text>
 <path d="M337,767H340M367,767H370" stroke="#e00" stroke-width="0.6"/>
</g>
<!-- 3D-CT7 -->
<g>
 <polygon points="483,667 491,672 491,760 483,755" fill="#4d4d4d"/>
 <polygon points="491,672 518,661 518,749 491,760" fill="#cfcfcf" stroke="#999" stroke-width="0.5"/>
 <polygon points="483,667 510,656 518,661 491,672" fill="#e8e8e8" stroke="#999" stroke-width="0.5"/>
 <polygon points="518,690 537,683 537,712 518,720" fill="#cfcfcf" stroke="#999" stroke-width="0.5"/>
 <polygon points="508,686 527,678 537,683 518,690" fill="#e5e5e5"/>
 <polygon points="468,708 478,713 478,740 468,735" fill="#444"/>
 <polygon points="468,708 485,701 495,706 478,713" fill="#b5b5b5"/>
 <polygon points="478,713 491,708 491,735 478,740" fill="#7a7a7a"/>
 <g stroke="#e00" stroke-width="0.9">
  <path d="M495,670.4V758.4M500,668.5V756.5M505,666.5V754.5M510,664.5V752.5M515,662.6V750.6M485,669V756M488,671V758"/>
  <path d="M470,712L537,686M472,719L537,694M472,726L537,701M472,733L537,709M491,682L518,671M491,748L518,737"/>
 </g>
 <text x="500" y="775.5" style="font-size:7px;font-weight:bold;fill:#222" text-anchor="middle">3D-CT7</text>
 <line x1="489" y1="777" x2="511" y2="777" stroke="#222" stroke-width="0.6"/>
</g>
<!-- CT8 2D -->
<g>
 <rect x="598" y="683" width="87" height="29" fill="url(#pct)" opacity="0.85"/>
 <rect x="623" y="683" width="34" height="75" fill="url(#pct)"/>
 <g stroke="#222" stroke-width="1" fill="none">
  <path d="M598,683H685M598,712H623M657,712H685M598,680V715M685,680V715M623,683V758M657,683V758M620,758H660"/>
 </g>
 <path d="M596,696l2,2l-2,2M685,696l2,2l-2,2M638,758l2,2l2,-2" stroke="#222" stroke-width="0.7" fill="none"/>
 <text x="640" y="777.5" style="font-size:7px;font-weight:bold;fill:#222" text-anchor="middle">CT8</text>
 <line x1="633" y1="779" x2="647" y2="779" stroke="#222" stroke-width="0.6"/>
 <text x="640" y="786" style="font-size:4.8px;font-weight:bold;fill:#222" text-anchor="middle">1 : 25</text>
</g>
<!-- 3D-CT8 -->
<g>
 <polygon points="765,705 774,710 774,763 765,758" fill="#4d4d4d"/>
 <polygon points="774,710 803,700 803,753 774,763" fill="#cfcfcf" stroke="#999" stroke-width="0.5"/>
 <g stroke="#e00" stroke-width="0.9"><path d="M778,710V761M783,708V760M788,706V758M793,704V756M798,702V754M767,707V758M770,709V760M774,722L803,712M774,732L803,722M774,742L803,732M774,752L803,742"/></g>
 <polygon points="750,690 810,670 822,676 762,696" fill="#e6e6e6" stroke="#999" stroke-width="0.5"/>
 <polygon points="762,696 822,676 822,698 762,718" fill="#c9c9c9" stroke="#999" stroke-width="0.5"/>
 <polygon points="750,690 762,696 762,718 750,712" fill="#555"/>
 <g stroke="#f00">
  <path d="M762,698L822,678M762,716L822,696" stroke-width="2.5"/>
  <path d="M752,692L812,672M752,710L762,715M770,696V714M780,692V711M790,689V708M800,686V704M810,682V701" stroke-width="1"/>
 </g>
 <text x="783" y="775.5" style="font-size:7px;font-weight:bold;fill:#222" text-anchor="middle">3D-CT8</text>
 <line x1="772" y1="777" x2="794" y2="777" stroke="#222" stroke-width="0.6"/>
</g>

<!-- Title block -->
<g>
 <rect x="866" y="706" width="254" height="86" fill="#fff" stroke="#222" stroke-width="0.9"/>
 <g stroke="#222" stroke-width="0.7" fill="none">
  <path d="M1014,706V792M866,739H1120M866,749H1014M866,760H1014M866,770H1120M866,781H1088M909,739V792M995,739V770M1060,770V792M1088,770V792"/>
 </g>
 <rect x="873" y="709" width="20" height="2.5" fill="#3f6fb5"/>
 <rect x="885" y="711.5" width="8" height="1.5" fill="#3f6fb5"/>
 <g class="tb">
  <text x="955" y="714">ĐẠI HỌC ĐÀ NẴNG</text>
  <text x="955" y="720.5">TRƯỜNG ĐẠI HỌC BÁCH KHOA</text>
  <text x="955" y="727">KHOA XÂY DỰNG CÔNG TRÌNH THỦY</text>
  <text x="955" y="735">LỚP : 18THXD</text>
  <text x="887.5" y="745.5">CN. KHOA</text>
  <text x="887.5" y="756.5">GVHD</text>
  <text x="887.5" y="767">GVHD</text>
  <text x="887.5" y="777.5">GV DUYỆT</text>
  <text x="887.5" y="788.5">SVTH</text>
  <text x="950" y="745.5">PGS. TS NGUYỄN CHÍ CÔNG</text>
  <text x="933" y="756.5">ThS. NGÔ THANH VŨ</text>
  <text x="950" y="788.5">PHẠM TUẤN ANH</text>
  <text x="1067" y="731" style="font-size:5.3px">BỆNH VIỆN THĂNG LONG</text>
  <text x="1037" y="778.5" style="font-size:5px">NGÀY GIAO:</text>
  <text x="1037" y="789" style="font-size:5px">HOÀN THÀNH:</text>
  <text x="1074" y="778.5" style="font-size:5px">8/2022</text>
  <text x="1074" y="789" style="font-size:5px">12/2022</text>
  <text x="1104" y="783.5" style="font-size:5.5px">KC-08</text>
 </g>
 <text x="1069" y="721" style="font-size:8.5px;fill:#111" text-anchor="middle" textLength="78" lengthAdjust="spacingAndGlyphs">ĐỒ ÁN TỐT NGHIỆP</text>
 <text x="1068" y="752" style="font-size:8.5px;fill:#111" text-anchor="middle" textLength="90" lengthAdjust="spacingAndGlyphs">KẾT CẤU KHUNG TRỤC</text>
 <text x="1068" y="762" style="font-size:8.5px;fill:#111" text-anchor="middle" textLength="63" lengthAdjust="spacingAndGlyphs">TẦNG 7 ĐẾN MÁI</text>
</g>
</svg>
</body></html>
